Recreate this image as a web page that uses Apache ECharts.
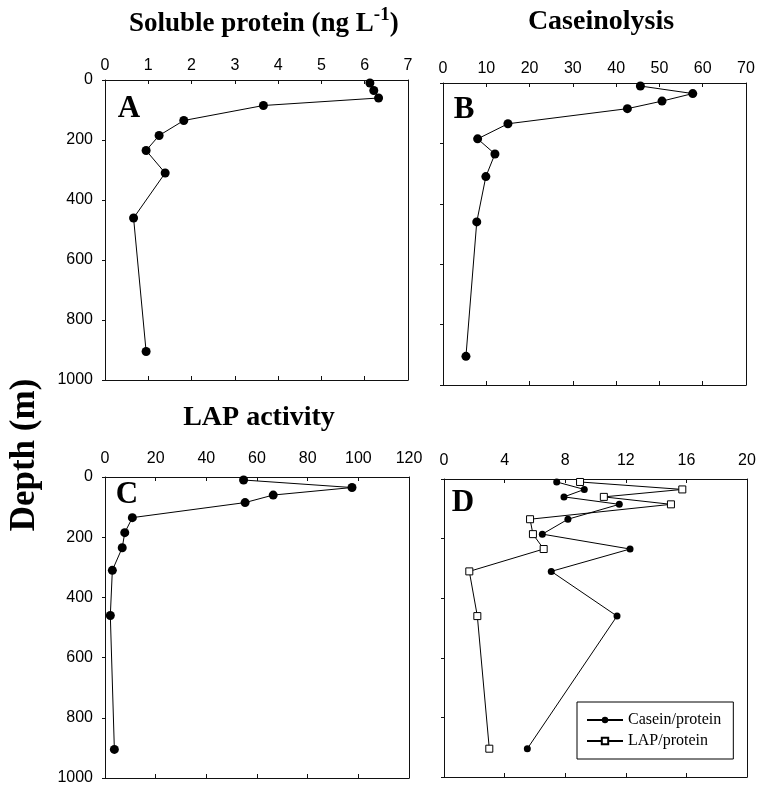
<!DOCTYPE html>
<html>
<head>
<meta charset="utf-8">
<script src="https://cdn.jsdelivr.net/npm/echarts@6/dist/echarts.min.js"></script>
<style>html,body{margin:0;padding:0;background:#fff}#c{width:761px;height:786px}</style>
</head>
<body>
<div id="c"></div>
<script>
// Depth (m) of sampling
const depths = [10, 35, 60, 85, 135, 185, 235, 310, 460, 905];
// Panel A: soluble protein
const solubleProtein = [6.12, 6.21, 6.32, 3.66, 1.82, 1.25, 0.95, 1.39, 0.66, 0.95];
// Panel B: caseinolysis
const caseinolysis = [45.6, 57.7, 50.6, 42.6, 15.0, 8.0, 12.0, 9.9, 7.8, 5.3];
// Panel C: LAP activity
const lapActivity = [54.7, 97.5, 66.4, 55.3, 10.8, 7.8, 6.8, 2.9, 2.1, 3.7];
// Panel D: ratios
const caseinPerProtein = [7.44, 9.26, 7.92, 11.57, 8.18, 6.49, 12.28, 7.08, 11.42, 5.50];
const lapPerProtein = [8.98, 15.73, 10.55, 14.98, 5.68, 5.87, 6.58, 1.67, 2.20, 2.99];

const depthTicks = [0, 200, 400, 600, 800, 1000];
const xRanges = [
  {max: 7, interval: 1},
  {max: 70, interval: 10},
  {max: 120, interval: 20},
  {max: 20, interval: 4}
];

const grids = [
  {left: 105, top: 80, width: 303, height: 300},
  {left: 443, top: 83, width: 303, height: 302},
  {left: 105, top: 477, width: 304, height: 301},
  {left: 444, top: 479, width: 303, height: 298}
];

const sans = "'Liberation Sans', Arial, sans-serif";
const serif = "'Liberation Serif', 'Times New Roman', serif";
const lineCol = '#111';

const xAxes = [], yAxes = [];
grids.forEach((g, i) => {
  const r = xRanges[i];
  xAxes.push({
    type: 'value', gridIndex: i, position: 'top', min: 0, max: r.max, interval: r.interval,
    axisLine: {show: true, onZero: false, lineStyle: {color: lineCol, width: 1}},
    axisTick: {show: true, inside: true, length: 4, lineStyle: {color: lineCol}},
    axisLabel: {show: true, color: '#000', fontFamily: sans, fontSize: 16, margin: i < 2 ? 6 : 10},
    splitLine: {show: false}
  });
  xAxes.push({
    type: 'value', gridIndex: i, position: 'bottom', min: 0, max: r.max, interval: r.interval,
    axisLine: {show: true, onZero: false, lineStyle: {color: lineCol, width: 1}},
    axisTick: {show: true, inside: true, length: 4, lineStyle: {color: lineCol}},
    axisLabel: {show: false}, splitLine: {show: false}
  });
  const showLab = (i === 0 || i === 2);
  yAxes.push({
    type: 'value', gridIndex: i, position: 'left', inverse: true, min: 0, max: 1000, interval: 200,
    axisLine: {show: true, onZero: false, lineStyle: {color: lineCol, width: 1}},
    axisTick: {show: true, inside: false, length: 3, lineStyle: {color: lineCol}},
    axisLabel: {show: showLab, color: '#000', fontFamily: sans, fontSize: 16, margin: 12,
      formatter: v => depthTicks.includes(v) ? String(v) : ''},
    splitLine: {show: false}
  });
  yAxes.push({
    type: 'value', gridIndex: i, position: 'right', inverse: true, min: 0, max: 1000, interval: 200,
    axisLine: {show: true, onZero: false, lineStyle: {color: lineCol, width: 1}},
    axisTick: {show: false}, axisLabel: {show: false}, splitLine: {show: false}
  });
});

function pts(vals) { return vals.map((v, k) => [v, depths[k]]); }

function circleSeries(name, vals, gi, size) {
  return {
    name: name, type: 'line', xAxisIndex: gi * 2, yAxisIndex: gi * 2,
    data: pts(vals), symbol: 'circle', symbolSize: size, showSymbol: true,
    lineStyle: {color: '#000', width: 1},
    itemStyle: {color: '#000', borderColor: '#000', borderWidth: 0},
    animation: false, z: 3
  };
}

const series = [
  circleSeries('Soluble protein', solubleProtein, 0, 9),
  circleSeries('Caseinolysis', caseinolysis, 1, 9),
  circleSeries('LAP activity', lapActivity, 2, 9),
  circleSeries('Casein/protein', caseinPerProtein, 3, 7),
  {
    name: 'LAP/protein', type: 'line', xAxisIndex: 6, yAxisIndex: 6,
    data: pts(lapPerProtein), symbol: 'rect', symbolSize: 7, showSymbol: true,
    lineStyle: {color: '#000', width: 1},
    itemStyle: {color: '#fff', borderColor: '#000', borderWidth: 1},
    animation: false, z: 4
  }
];

const titleFont = {fontFamily: serif, fontWeight: 'bold', fill: '#000'};
const graphic = [
  {type: 'text', left: 129, top: 6, style: {
    text: '{a|Soluble protein (ng L}{s|-1}{a|)}',
    rich: {
      a: {fontFamily: serif, fontWeight: 'bold', fontSize: 27, fill: '#000', lineHeight: 32, verticalAlign: 'bottom'},
      s: {fontFamily: serif, fontWeight: 'bold', fontSize: 19, fill: '#000', lineHeight: 32, verticalAlign: 'top'}
    }}},
  {type: 'text', x: 601, y: 22, style: Object.assign({text: 'Caseinolysis', fontSize: 28, align: 'center', verticalAlign: 'middle'}, titleFont)},
  {type: 'text', x: 259, y: 418, style: Object.assign({text: 'LAP activity', fontSize: 28, align: 'center', verticalAlign: 'middle'}, titleFont)},
  {type: 'text', x: 129, y: 109, style: Object.assign({text: 'A', fontSize: 31, align: 'center', verticalAlign: 'middle'}, titleFont)},
  {type: 'text', x: 464, y: 110, style: Object.assign({text: 'B', fontSize: 31, align: 'center', verticalAlign: 'middle'}, titleFont)},
  {type: 'text', x: 127, y: 495, style: Object.assign({text: 'C', fontSize: 31, align: 'center', verticalAlign: 'middle'}, titleFont)},
  {type: 'text', x: 463, y: 503, style: Object.assign({text: 'D', fontSize: 31, align: 'center', verticalAlign: 'middle'}, titleFont)},
  {type: 'text', x: 25, y: 455, rotation: Math.PI / 2, style: Object.assign({text: 'Depth (m)', fontSize: 35, align: 'center', verticalAlign: 'middle'}, titleFont)}
];

const chart = echarts.init(document.getElementById('c'), null, {renderer: 'canvas'});
chart.setOption({
  animation: false,
  backgroundColor: '#fff',
  grid: grids.map(g => Object.assign({containLabel: false}, g)),
  xAxis: xAxes,
  yAxis: yAxes,
  series: series,
  legend: {
    data: ['Casein/protein', 'LAP/protein'],
    orient: 'vertical', left: 577, top: 702, width: 158,
    padding: [10, 12, 10, 9], itemGap: 5, itemWidth: 36, itemHeight: 8,
    borderColor: '#000', borderWidth: 1, backgroundColor: '#fff',
    textStyle: {fontFamily: serif, fontSize: 16, color: '#000'},
    selectedMode: false
  },
  graphic: graphic
});
</script>
</body>
</html>
